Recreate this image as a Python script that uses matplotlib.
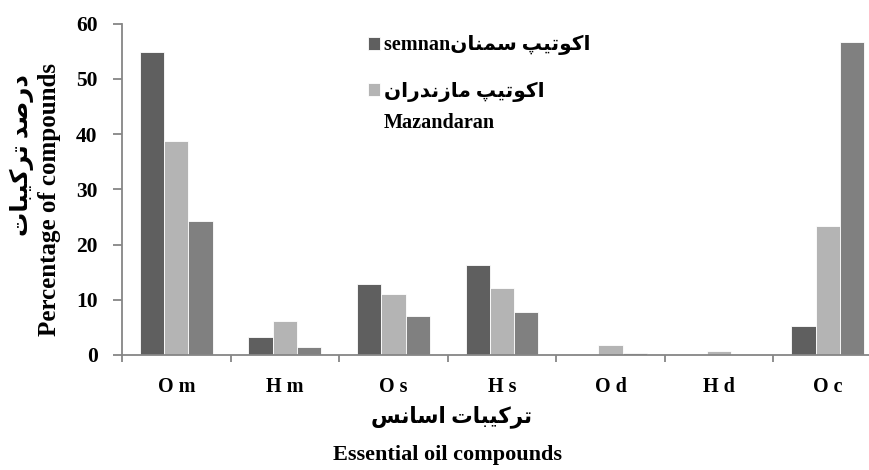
import matplotlib
matplotlib.use('Agg')
import matplotlib.pyplot as plt
import numpy as np

# data
categories = ['O m', 'H m', 'O s', 'H s', 'O d', 'H d', 'O c']
semnan = [54.9, 3.2, 12.9, 16.3, 0.2, 0.0, 5.2]
mazandaran = [38.8, 6.2, 11.1, 12.1, 1.8, 0.8, 23.3]
third = [24.3, 1.5, 7.1, 7.8, 0.3, 0.0, 56.7]
yticks = [0, 10, 20, 30, 40, 50, 60]

# simple persian shaping (presentation forms + reverse)
FORMS = {
    'ا': ('\uFE8D', '\uFE8E', None, None),
    'ب': ('\uFE8F', '\uFE90', '\uFE91', '\uFE92'),
    'پ': ('\uFB56', '\uFB57', '\uFB58', '\uFB59'),
    'ت': ('\uFE95', '\uFE96', '\uFE97', '\uFE98'),
    'د': ('\uFEA9', '\uFEAA', None, None),
    'ر': ('\uFEAD', '\uFEAE', None, None),
    'ز': ('\uFEAF', '\uFEB0', None, None),
    'س': ('\uFEB1', '\uFEB2', '\uFEB3', '\uFEB4'),
    'ص': ('\uFEB9', '\uFEBA', '\uFEBB', '\uFEBC'),
    'ک': ('\uFB8E', '\uFB8F', '\uFB90', '\uFB91'),
    'م': ('\uFEE1', '\uFEE2', '\uFEE3', '\uFEE4'),
    'ن': ('\uFEE5', '\uFEE6', '\uFEE7', '\uFEE8'),
    'و': ('\uFEED', '\uFEEE', None, None),
    'ی': ('\uFBFC', '\uFBFD', '\uFBFE', '\uFBFF'),
}

def fa(s):
    out = []
    for i, c in enumerate(s):
        if c not in FORMS:
            out.append(c)
            continue
        iso, fin, ini, med = FORMS[c]
        prev = s[i-1] if i > 0 else None
        nxt = s[i+1] if i + 1 < len(s) else None
        jp = prev in FORMS and FORMS[prev][2] is not None
        jn = ini is not None and nxt in FORMS
        if jp and jn:
            out.append(med)
        elif jp:
            out.append(fin)
        elif jn:
            out.append(ini)
        else:
            out.append(iso)
    return ''.join(reversed(out))

plt.rcParams['font.family'] = ['Liberation Serif', 'DejaVu Sans']
plt.rcParams['font.weight'] = 'bold'

fig = plt.figure(figsize=(8.7, 4.7), dpi=100)
W, H = 870, 470
ax = fig.add_axes([122/W, 115/H, 760/W, 331.5/H])

x = np.arange(len(categories))
w = 0.224
ax.bar(x - w, semnan, w, color='#5f5f5f', edgecolor='white', linewidth=0.6,
       label='semnan' + fa('اکوتیپ سمنان'))
ax.bar(x, mazandaran, w, color='#b4b4b4', edgecolor='white', linewidth=0.6,
       label=fa('اکوتیپ مازندران'))
ax.bar(x + w, third, w, color='#808080', edgecolor='white', linewidth=0.6)

ax.set_xlim(-0.5, len(categories) - 0.5)
ax.set_ylim(0, 60)
ax.set_yticks(yticks)
ax.set_xticks(x)
ax.set_xticklabels(categories)
ax.set_xticks(np.arange(len(categories) + 1) - 0.5, minor=True)

for s in ['top', 'right']:
    ax.spines[s].set_visible(False)
for s in ['left', 'bottom']:
    ax.spines[s].set_color('#868686')
    ax.spines[s].set_linewidth(1.3)

ax.tick_params(axis='y', length=6.5, width=1.3, color='#868686', pad=11, labelsize=15.5)
ax.tick_params(axis='x', which='major', length=0, pad=16, labelsize=14.5)
ax.tick_params(axis='x', which='minor', length=5, width=1.3, color='#868686')

# axis titles
fig.text(22/W, 1 - 155/H, fa('درصد ترکیبات'), rotation=90, ha='center', va='center', fontsize=17.5)
fig.text(50/W, 1 - 200/H, 'Percentage of compounds', rotation=90, ha='center', va='center', fontsize=18)
fig.text(452/W, 1 - 417/H, fa('ترکیبات اسانس'), ha='center', va='center', fontsize=15.5)
fig.text(448/W, 1 - 455/H, 'Essential oil compounds', ha='center', va='center', fontsize=16)

ax.legend(loc='upper left', bbox_to_anchor=(358/W, 1 - 25/H), bbox_transform=fig.transFigure,
          frameon=False, fontsize=14.5, handlelength=0.6, handleheight=0.6,
          handletextpad=0.2, labelspacing=1.3, borderpad=0)
fig.text(384/W, 1 - 123/H, 'Mazandaran', ha='left', va='center', fontsize=14.5)

fig.savefig('out.png', dpi=100)
